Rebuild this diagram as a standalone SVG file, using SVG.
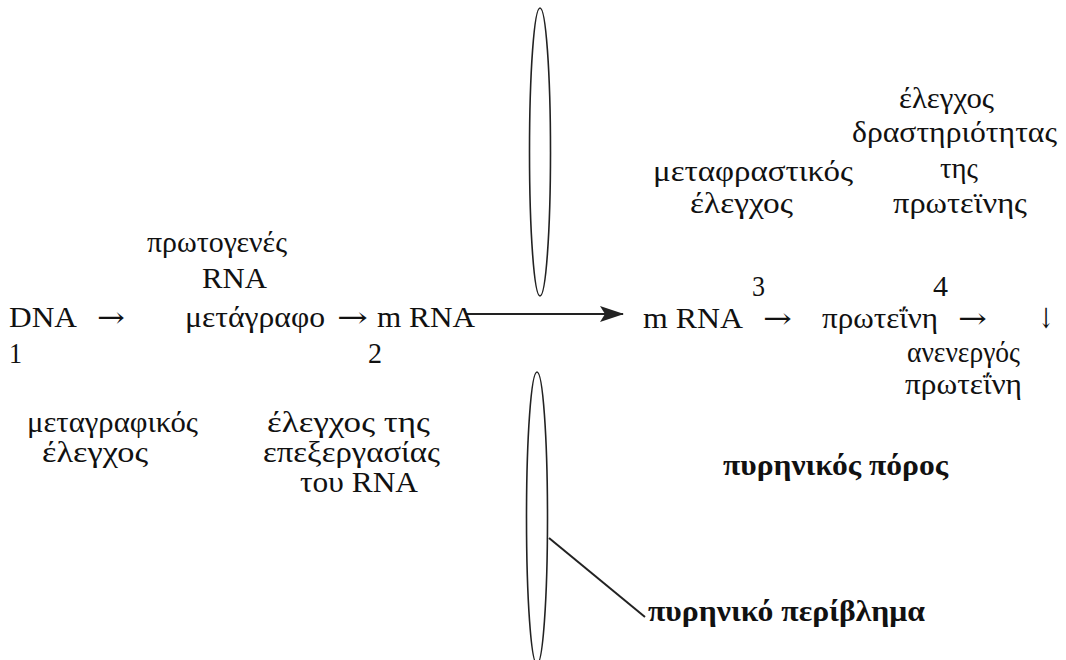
<svg xmlns="http://www.w3.org/2000/svg" width="1066" height="660" viewBox="0 0 1066 660">
<style>
text{font-family:"Liberation Serif","Times New Roman","DejaVu Serif",serif;font-size:30px;fill:#111}
.b{font-weight:bold}
.ar{font-family:"DejaVu Serif","DejaVu Sans",sans-serif;font-size:28px}
.mem{fill:none;stroke:#222;stroke-width:1.6}
.ln{stroke:#222;stroke-width:2;fill:none}
</style>
<defs>
<marker id="ah" markerWidth="24" markerHeight="16" refX="23" refY="8" orient="auto" markerUnits="userSpaceOnUse">
<path d="M0,0 L24,8 L0,16 L5,8 Z" fill="#222"/>
</marker>
</defs>
<rect width="1066" height="660" fill="#fff"/>
<g id="membrane">
<ellipse class="mem" cx="540" cy="152" rx="10.5" ry="144"/>
<ellipse class="mem" cx="537" cy="518" rx="10.5" ry="146"/>
</g>
<g id="connectors">
<line class="ln" x1="466" y1="314" x2="623" y2="314" marker-end="url(#ah)"/>
<line class="ln" x1="549" y1="538" x2="645" y2="617"/>
</g>
<g id="n-dna">
<text x="9" y="327" textLength="68" lengthAdjust="spacingAndGlyphs">DNA</text>
<text class="ar" x="97" y="327" textLength="28" lengthAdjust="spacingAndGlyphs">→</text>
<text x="9" y="363" textLength="13" lengthAdjust="spacingAndGlyphs">1</text>
</g>
<g id="n-primary">
<text x="147" y="252" textLength="140" lengthAdjust="spacingAndGlyphs">πρωτογενές</text>
<text x="202" y="288" textLength="65" lengthAdjust="spacingAndGlyphs">RNA</text>
<text x="185" y="327" textLength="140" lengthAdjust="spacingAndGlyphs">μετάγραφο</text>
<text class="ar" x="337" y="327" textLength="31" lengthAdjust="spacingAndGlyphs">→</text>
</g>
<g id="n-mrna2">
<text x="377" y="327" textLength="98" lengthAdjust="spacingAndGlyphs">m RNA</text>
<text x="368" y="363" textLength="14" lengthAdjust="spacingAndGlyphs">2</text>
</g>
<g id="n-trans-ctrl">
<text x="27" y="432" textLength="171" lengthAdjust="spacingAndGlyphs">μεταγραφικός</text>
<text x="42" y="462" textLength="106" lengthAdjust="spacingAndGlyphs">έλεγχος</text>
</g>
<g id="n-proc-ctrl">
<text x="267" y="432" textLength="163" lengthAdjust="spacingAndGlyphs">έλεγχος της</text>
<text x="263" y="462" textLength="177" lengthAdjust="spacingAndGlyphs">επεξεργασίας</text>
<text x="300" y="492" textLength="118" lengthAdjust="spacingAndGlyphs">του RNA</text>
</g>
<g id="n-mrna3">
<text x="752" y="296" textLength="13" lengthAdjust="spacingAndGlyphs">3</text>
<text x="643" y="328" textLength="100" lengthAdjust="spacingAndGlyphs">m RNA</text>
<text class="ar" x="763" y="328" textLength="29" lengthAdjust="spacingAndGlyphs">→</text>
</g>
<g id="n-protein">
<text x="933" y="296" textLength="15" lengthAdjust="spacingAndGlyphs">4</text>
<text x="822" y="328" textLength="116" lengthAdjust="spacingAndGlyphs">πρωτεΐνη</text>
<text class="ar" x="958" y="328" textLength="29" lengthAdjust="spacingAndGlyphs">→</text>
<text class="ar" x="1038" y="328" textLength="16" lengthAdjust="spacingAndGlyphs">↓</text>
</g>
<g id="n-transl-ctrl">
<text x="653" y="181" textLength="200" lengthAdjust="spacingAndGlyphs">μεταφραστικός</text>
<text x="690" y="213" textLength="103" lengthAdjust="spacingAndGlyphs">έλεγχος</text>
</g>
<g id="n-activity">
<text x="899" y="108" textLength="95" lengthAdjust="spacingAndGlyphs">έλεγχος</text>
<text x="852" y="142" textLength="205" lengthAdjust="spacingAndGlyphs">δραστηριότητας</text>
<text x="940" y="178" textLength="38" lengthAdjust="spacingAndGlyphs">της</text>
<text x="893" y="213" textLength="134" lengthAdjust="spacingAndGlyphs">πρωτεϊνης</text>
</g>
<g id="n-inactive">
<text x="907" y="362" textLength="113" lengthAdjust="spacingAndGlyphs">ανενεργός</text>
<text x="905" y="394" textLength="117" lengthAdjust="spacingAndGlyphs">πρωτεΐνη</text>
</g>
<g id="n-pore"><text class="b" x="723" y="475" textLength="225" lengthAdjust="spacingAndGlyphs">πυρηνικός πόρος</text></g>
<g id="n-envelope"><text class="b" x="648" y="621" textLength="277" lengthAdjust="spacingAndGlyphs">πυρηνικό περίβλημα</text></g>
</svg>
